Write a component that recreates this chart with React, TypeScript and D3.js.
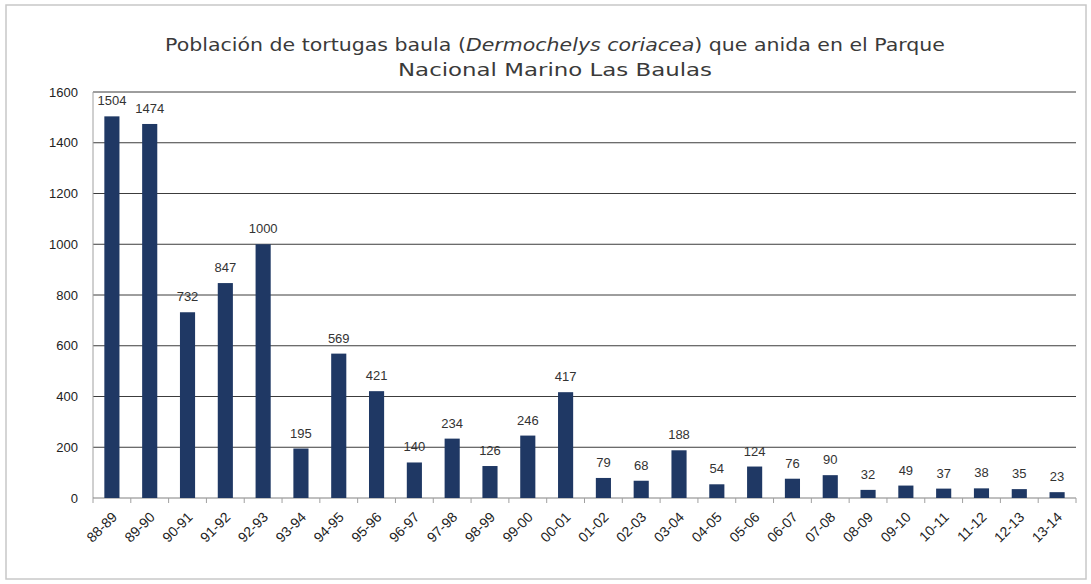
import React from "react";
import * as d3 from "d3";

const categories = ["88-89","89-90","90-91","91-92","92-93","93-94","94-95","95-96","96-97","97-98","98-99","99-00","00-01","01-02","02-03","03-04","04-05","05-06","06-07","07-08","08-09","09-10","10-11","11-12","12-13","13-14"];
const values = [1504,1474,732,847,1000,195,569,421,140,234,126,246,417,79,68,188,54,124,76,90,32,49,37,38,35,23];
const yTicks = [0,200,400,600,800,1000,1200,1400,1600];

const W = 1091, H = 584;
const left = 93, right = 1076, top = 92, bottom = 498;

export default function App() {
  const x = d3.scaleBand<string>().domain(categories).range([left, right]).paddingInner(0.6).paddingOuter(0.3);
  const y = d3.scaleLinear().domain([0, 1600]).range([bottom, top]);
  const step = x.step();
  const font = "'Liberation Sans', Arial, sans-serif";
  const tfont = "'DejaVu Sans', sans-serif";
  return (
    <div style={{ position: "absolute", left: 0, top: 0 }}>
      <svg width={W} height={H} style={{ display: "block", background: "#fff" }}>
        <rect x={6} y={5} width={1080} height={574} fill="#fff" stroke="#c8c8c8" strokeWidth={1.5} />
        <text x={555} y={51} textAnchor="middle" fontFamily={tfont} fontSize={18.5} fill="#3a3a3a" textLength={780} lengthAdjust="spacingAndGlyphs">
          Población de tortugas baula (<tspan fontStyle="italic">Dermochelys coriacea</tspan>) que anida en el Parque
        </text>
        <text x={555} y={76} textAnchor="middle" fontFamily={tfont} fontSize={18.5} fill="#3a3a3a" textLength={314} lengthAdjust="spacingAndGlyphs">
          Nacional Marino Las Baulas
        </text>
        {yTicks.map(t => (
          <g key={t}>
            {t > 0 && <line x1={left} x2={right} y1={y(t)} y2={y(t)} stroke="#3c3c3c" strokeWidth={1} />}
            <text x={78} y={y(t) + 4.5} textAnchor="end" fontFamily={font} fontSize={13} fill="#222">{t}</text>
          </g>
        ))}
        <line x1={left} x2={left} y1={top} y2={bottom} stroke="#a0a0a0" strokeWidth={1} />
        <line x1={left} x2={right} y1={bottom} y2={bottom} stroke="#808080" strokeWidth={1} />
        {categories.map((c, i) => (
          <line key={"t" + c} x1={left + i * step} x2={left + i * step} y1={bottom} y2={bottom + 5} stroke="#a0a0a0" />
        ))}
        <line x1={right} x2={right} y1={bottom} y2={bottom + 5} stroke="#a0a0a0" />
        {categories.map((c, i) => {
          const bx = x(c)!;
          const cx = bx + x.bandwidth() / 2;
          return (
            <g key={c}>
              <rect x={bx} y={y(values[i])} width={x.bandwidth()} height={bottom - y(values[i])} fill="#1f3864" />
              <text x={cx} y={y(values[i]) - 11} textAnchor="middle" fontFamily={font} fontSize={13} fill="#333">{values[i]}</text>
              <text transform={`translate(${cx + 6},${bottom + 20}) rotate(-45)`} textAnchor="end" fontFamily={font} fontSize={14} fill="#222">{c}</text>
            </g>
          );
        })}
      </svg>
    </div>
  );
}
